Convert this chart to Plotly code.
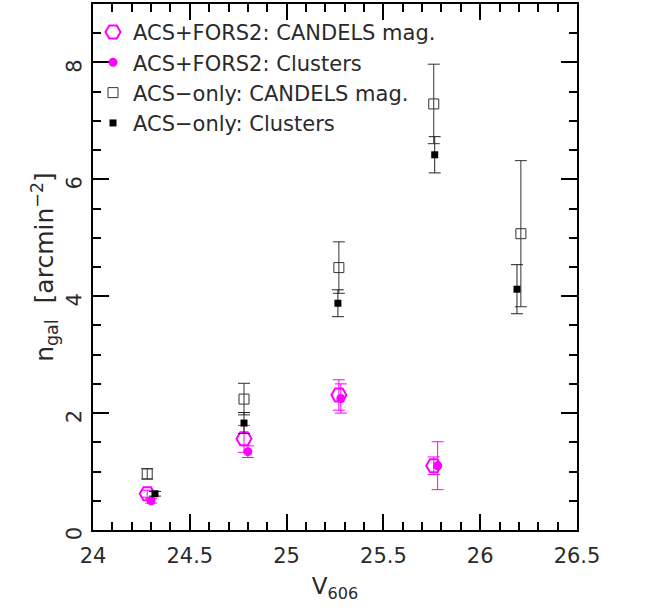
import plotly.graph_objects as go

# ACS+FORS2: CANDELS mag.
fors_candels_x = [24.28, 24.78, 25.27, 25.76]
fors_candels_y = [0.62, 1.56, 2.31, 1.10]
fors_candels_err = [0.06, 0.23, 0.26, 0.15]

# ACS+FORS2: Clusters
fors_clusters_x = [24.30, 24.80, 25.28, 25.78]
fors_clusters_y = [0.50, 1.34, 2.25, 1.10]
fors_clusters_err = [0.04, 0.10, 0.25, 0.41]

# ACS-only: CANDELS mag.
acs_candels_x = [24.28, 24.78, 25.27, 25.76, 26.21]
acs_candels_y = [0.96, 2.24, 4.49, 7.29, 5.07]
acs_candels_err = [0.09, 0.27, 0.44, 0.68, 1.25]

# ACS-only: Clusters
acs_clusters_x = [24.32, 24.78, 25.265, 25.765, 26.19]
acs_clusters_y = [0.62, 1.83, 3.88, 6.42, 4.12]
acs_clusters_err = [0.04, 0.18, 0.23, 0.31, 0.42]

x_ticks = [24, 24.5, 25, 25.5, 26, 26.5]
x_ticktext = ["24", "24.5", "25", "25.5", "26", "26.5"]
y_ticks = [0, 2, 4, 6, 8]

magenta = "#ff00ff"
font_family = "DejaVu Sans, Liberation Sans, sans-serif"
text_color = "#2a2a2a"

fig = go.Figure()

def err(vals, color):
    return dict(type="data", array=vals, visible=True, color=color, thickness=1, width=6)

fig.add_trace(go.Scatter(
    x=acs_candels_x, y=acs_candels_y, mode="markers",
    name="ACS\u2212only: CANDELS mag.", legendrank=3,
    error_y=err(acs_candels_err, "#333333"),
    marker=dict(symbol="square-open", size=10, color="#333333", line_width=1),
))
fig.add_trace(go.Scatter(
    x=fors_candels_x, y=fors_candels_y, mode="markers",
    name="ACS+FORS2: CANDELS mag.", legendrank=1,
    error_y=err(fors_candels_err, magenta),
    marker=dict(symbol="hexagon2-open", size=15, color=magenta, line_width=2),
))
fig.add_trace(go.Scatter(
    x=fors_clusters_x, y=fors_clusters_y, mode="markers",
    name="ACS+FORS2: Clusters", legendrank=2,
    error_y=err(fors_clusters_err, magenta),
    marker=dict(symbol="circle", size=9, color=magenta),
))
fig.add_trace(go.Scatter(
    x=acs_clusters_x, y=acs_clusters_y, mode="markers",
    name="ACS\u2212only: Clusters", legendrank=4,
    error_y=err(acs_clusters_err, "#222222"),
    marker=dict(symbol="square", size=7, color="black"),
))

axis_common = dict(
    showline=True, linecolor="black", linewidth=2, mirror="allticks",
    ticks="inside", tickcolor="black", tickwidth=1.5, ticklen=16,
    showgrid=False, zeroline=False,
    tickfont=dict(family=font_family, size=21, color=text_color),
)

fig.update_xaxes(
    range=[24, 26.5], tickvals=x_ticks, ticktext=x_ticktext,
    minor=dict(dtick=0.1, ticks="inside", ticklen=8, tickcolor="black", tickwidth=1.5, showgrid=False),
    title=dict(text="V<sub>606</sub>", font=dict(family=font_family, size=23, color=text_color), standoff=11),
    ticklabelstandoff=6,
    **axis_common,
)
fig.update_yaxes(
    range=[0, 9], tickvals=y_ticks, tickangle=-89.9,
    minor=dict(dtick=0.5, ticks="inside", ticklen=8, tickcolor="black", tickwidth=1.5, showgrid=False),
    title=dict(text="n<sub>gal</sub>  [arcmin<sup>\u22122</sup>]", font=dict(family=font_family, size=25, color=text_color), standoff=0),
    ticklabelstandoff=16,
    **axis_common,
)

fig.update_layout(
    width=655, height=612,
    margin=dict(l=93, r=78, t=4, b=82, autoexpand=False),
    plot_bgcolor="white", paper_bgcolor="white",
    legend=dict(
        x=0.0, y=0.985, xanchor="left", yanchor="top",
        traceorder="normal",
        bgcolor="rgba(0,0,0,0)",
        font=dict(family=font_family, size=21, color=text_color),
        itemwidth=30,
    ),
)

fig.write_html(
    "out.html",
    config={"displayModeBar": False},
    post_script="document.body.style.margin='0px';",
)
